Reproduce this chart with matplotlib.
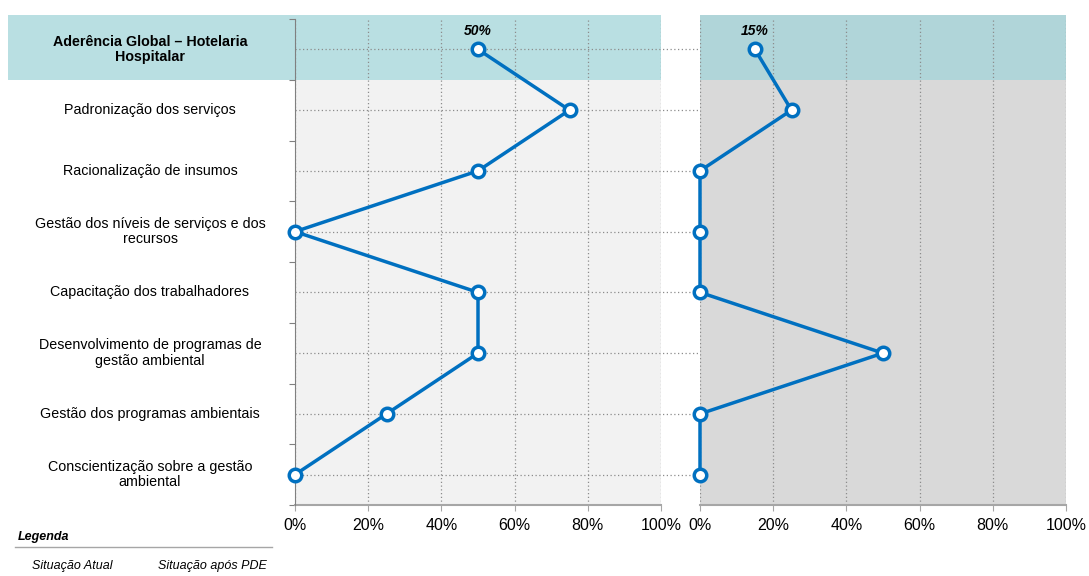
import numpy as np
import matplotlib.pyplot as plt
from matplotlib.patches import Rectangle
from matplotlib.transforms import blended_transform_factory, ScaledTranslation

plt.rcParams['font.family'] = ['Liberation Sans', 'DejaVu Sans']

# dados
categorias = ['Aderência Global – Hotelaria\nHospitalar',
              'Padronização dos serviços',
              'Racionalização de insumos',
              'Gestão dos níveis de serviços e dos\nrecursos',
              'Capacitação dos trabalhadores',
              'Desenvolvimento de programas de\ngestão ambiental',
              'Gestão dos programas ambientais',
              'Conscientização sobre a gestão\nambiental']
atual = [50, 75, 50, 0, 50, 50, 25, 0]
apos_pde = [15, 25, 0, 0, 0, 50, 0, 0]
xticks = [0, 20, 40, 60, 80, 100]
xlabels = ['0%', '20%', '40%', '60%', '80%', '100%']

W, H = 1089, 576
fig = plt.figure(figsize=(W / 100, H / 100), dpi=100)


def px(x0, y0, x1, y1):
    return [x0 / W, 1 - y1 / H, (x1 - x0) / W, (y1 - y0) / H]


azul = '#0070c0'
cinza = '#a6a6a6'
y = np.arange(len(categorias))
row_px = (505 - 19) / len(categorias)

ax1 = fig.add_axes(px(295, 19, 661, 505))
ax2 = fig.add_axes(px(700, 19, 1066, 505))

for ax, vals, bg, topo in [(ax1, atual, '#f2f2f2', '#b9dfe2'),
                           (ax2, apos_pde, '#d9d9d9', '#b0d5d9')]:
    ax.set_facecolor(bg)
    ax.set_xlim(0, 100)
    ax.set_ylim(len(categorias) - 0.5, -0.5)
    ax.axhspan(-0.5, 0.5, color=topo, zorder=0, lw=0)
    # faixa um pouco acima do eixo
    ax.axhspan(-0.5 - 4 / row_px, -0.5, color=topo, zorder=0, lw=0, clip_on=False)
    for xv in xticks:
        ax.axvline(xv, color='#8c8c8c', ls=(0, (1, 2)), lw=0.9, zorder=1)
    ax.plot(vals, y, color=azul, lw=2.5, marker='o', ms=9, mfc='white',
            mec=azul, mew=2.5, zorder=5, clip_on=False)
    ax.text(vals[0], 0, f'{vals[0]}%', ha='center', va='bottom', fontsize=10,
            fontweight='bold', style='italic', zorder=6,
            transform=ax.transData + ScaledTranslation(0, 8 / 72, fig.dpi_scale_trans))
    ax.set_xticks(xticks)
    ax.set_xticklabels(xlabels, fontsize=11.5)
    ax.tick_params(axis='x', direction='out', length=4, color=cinza, pad=5)
    for s in ['top', 'right']:
        ax.spines[s].set_visible(False)
    ax.spines['bottom'].set_color(cinza)
    ax.spines['bottom'].set_linewidth(1.5)

trans = blended_transform_factory(ax1.transAxes, ax1.transData)

# faixa do titulo à esquerda
ax1.add_patch(Rectangle(((8 - 295) / 366, -0.5 - 4 / row_px), (295 - 8) / 366, 1.0 + 4 / row_px,
                        transform=trans, color='#b9dfe2', zorder=0, lw=0, clip_on=False))

# linhas horizontais pontilhadas atravessando os dois paineis
ax1.hlines(y, 0, 100 * (1066 - 295) / (661 - 295), color='#8c8c8c',
           ls=(0, (1, 2)), lw=0.9, zorder=2, clip_on=False)

ax1.spines['left'].set_color('#808080')
ax1.spines['left'].set_zorder(3)
ax1.set_yticks(np.arange(-0.5, len(categorias), 1.0))
ax1.set_yticklabels([])
ax1.tick_params(axis='y', direction='out', length=4, color='#808080')
ax2.spines['left'].set_visible(False)
ax2.set_yticks([])

for i, cat in enumerate(categorias):
    ax1.text((150 - 295) / 366, i, cat, transform=trans, ha='center', va='center',
             fontsize=10.3, fontweight='bold' if i == 0 else 'normal', linespacing=1.15,
             zorder=4)

# legenda
fig.text(18 / W, 1 - 537 / H, 'Legenda', fontsize=9, fontweight='bold', style='italic', va='center')
fig.lines.append(plt.Line2D([15 / W, 272 / W], [1 - 547 / H] * 2, color=cinza, lw=1,
                            transform=fig.transFigure))
fig.text(32 / W, 1 - 566 / H, 'Situação Atual', fontsize=9, style='italic', va='center')
fig.text(158 / W, 1 - 566 / H, 'Situação após PDE', fontsize=9, style='italic', va='center')

fig.savefig('out.png', dpi=100)
